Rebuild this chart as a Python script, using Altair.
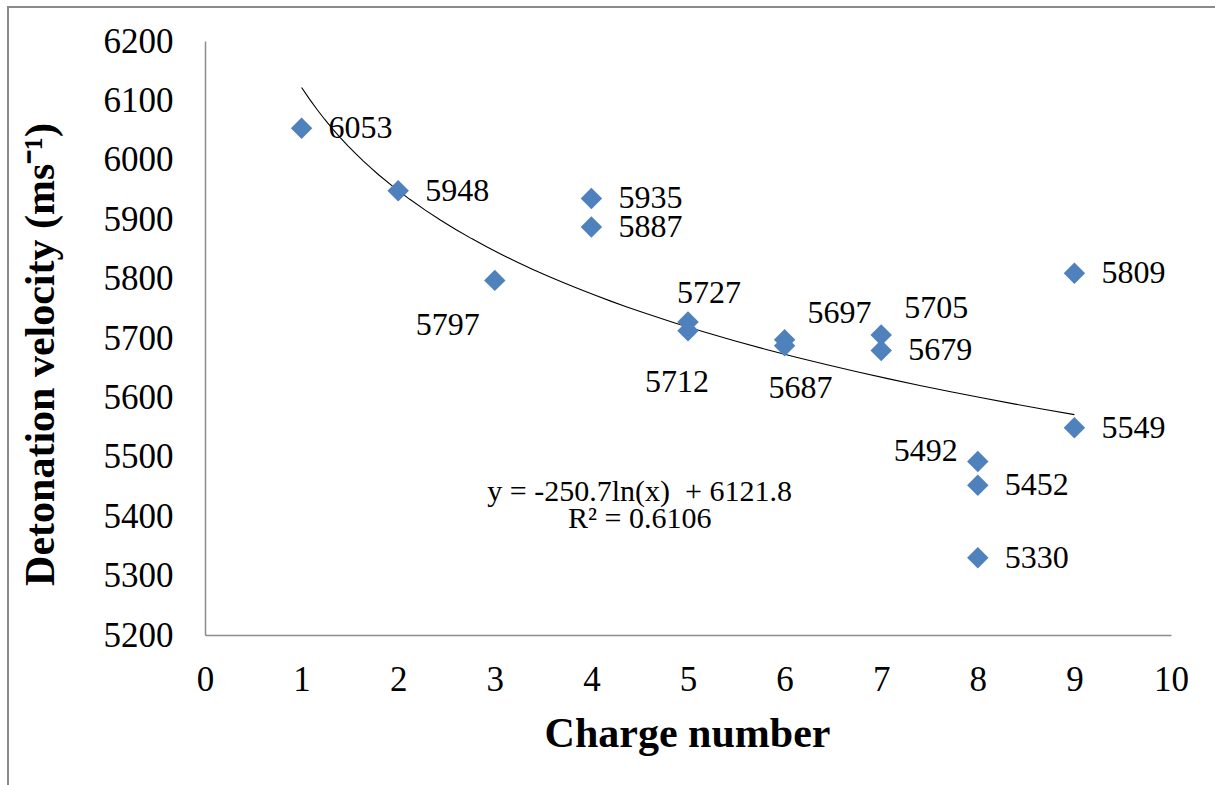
import altair as alt
import pandas as pd

# ---- data ----
charge = [1, 2, 3, 4, 4, 5, 5, 6, 6, 7, 7, 8, 8, 8, 9, 9]
velocity = [6053, 5948, 5797, 5935, 5887, 5727, 5712, 5697, 5687, 5705, 5679,
            5492, 5452, 5330, 5809, 5549]
label_place = ["right", "right", "left_below", "right", "right", "above",
               "below_left", "above_right", "below", "above_right", "right",
               "left", "right", "right", "right", "right"]

x_ticks = list(range(0, 11))
y_ticks = list(range(5200, 6201, 100))
equation_lines = ["y = -250.7ln(x)\u00a0 + 6121.8", "R² = 0.6106"]
equation_x = [4.5, 4.5]
equation_y = [5441, 5395]

df = pd.DataFrame({"charge": charge, "velocity": velocity, "place": label_place})
df["label"] = df["velocity"].astype(str)
eq_df = pd.DataFrame({"x": equation_x, "y": equation_y, "text": equation_lines})

FONT = "Liberation Serif"
BLUE = "#4F81BD"

xscale = alt.Scale(domain=[0, 10], nice=False, zero=False)
yscale = alt.Scale(domain=[5200, 6200], nice=False, zero=False)

base = alt.Chart(df)

points = base.mark_point(shape="diamond", filled=True, size=460, color=BLUE,
                         opacity=1).encode(
    x=alt.X("charge:Q", scale=xscale,
            axis=alt.Axis(values=x_ticks, title="Charge number", grid=False,
                          ticks=False, domainColor="#8c8c8c", domainWidth=1.5,
                          labelFont=FONT, labelFontSize=35, labelColor="black",
                          labelPadding=27, labelFlush=False, format="d",
                          titleFont=FONT, titleFontSize=42, titleFontWeight="bold",
                          titleColor="black", titleX=482, titleY=98,
                          titleBaseline="middle", titleAlign="center")),
    y=alt.Y("velocity:Q", scale=yscale,
            axis=alt.Axis(values=y_ticks, title="Detonation velocity (ms⁻¹)",
                          grid=False, ticks=False, domainColor="#8c8c8c",
                          domainWidth=1.5, labelFont=FONT, labelFontSize=35,
                          labelColor="black", labelPadding=32, labelFlush=False,
                          format="d", titleFont=FONT, titleFontSize=42,
                          titleFontWeight="bold", titleColor="black",
                          titleAngle=-90, titleX=-165, titleY=313,
                          titleBaseline="middle", titleAlign="center")),
)

trend = base.transform_regression("charge", "velocity", method="log").mark_line(
    color="black", strokeWidth=1.1).encode(
    x=alt.X("charge:Q", scale=xscale),
    y=alt.Y("velocity:Q", scale=yscale),
)

placements = {
    "right": dict(dx=27, dy=0, align="left"),
    "above_right": dict(dx=23, dy=-27, align="left"),
    "above": dict(dx=21, dy=-29, align="center"),
    "below_left": dict(dx=-11, dy=51, align="center"),
    "below": dict(dx=16, dy=42, align="center"),
    "left_below": dict(dx=-15, dy=45, align="right"),
    "left": dict(dx=-20, dy=-11, align="right"),
}

label_layers = []
for name, p in placements.items():
    label_layers.append(
        base.transform_filter(alt.datum.place == name).mark_text(
            font=FONT, fontSize=32, color="black", baseline="middle", **p
        ).encode(
            x=alt.X("charge:Q", scale=xscale),
            y=alt.Y("velocity:Q", scale=yscale),
            text="label:N",
        )
    )

equation = alt.Chart(eq_df).mark_text(font=FONT, fontSize=30, color="black",
                                      align="center", baseline="middle").encode(
    x=alt.X("x:Q", scale=xscale),
    y=alt.Y("y:Q", scale=yscale),
    text="text:N",
)

border_top = alt.Chart(df).mark_rule(color="#8a8a8a", strokeWidth=2).encode(
    x=alt.value(-197), x2=alt.value(1010), y=alt.value(-34)
)
border_left = alt.Chart(df).mark_rule(color="#8a8a8a", strokeWidth=2).encode(
    x=alt.value(-197), y=alt.value(-35), y2=alt.value(744)
)

chart = alt.layer(trend, points, *label_layers, equation, border_top, border_left).properties(
    width=966, height=594,
    autosize=alt.AutoSizeParams(type="none"),
    padding={"left": 205, "top": 41, "right": 44, "bottom": 150},
    background="white",
).configure_view(stroke=None)

chart.save("out.html", embed_options={"renderer": "svg", "actions": False})
